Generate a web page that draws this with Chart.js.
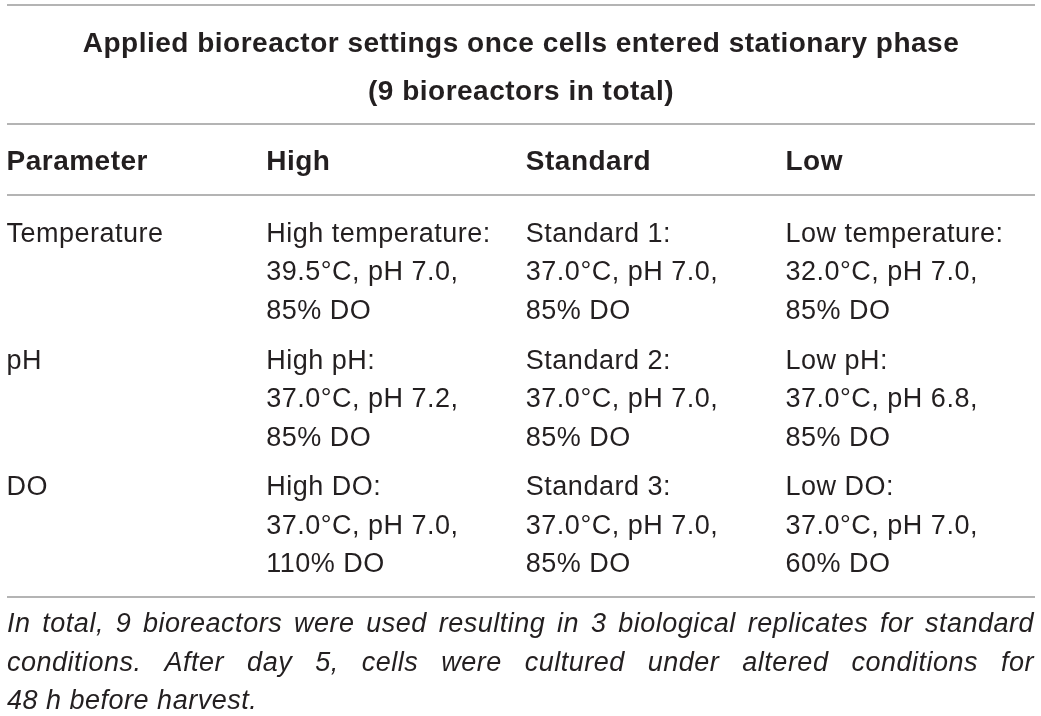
<!DOCTYPE html>
<html>
<head>
<meta charset="utf-8">
<script src="https://cdn.jsdelivr.net/npm/chart.js@4.4.1/dist/chart.umd.min.js"></script>
<style>
  html, body { margin: 0; padding: 0; background: #ffffff; }
  #wrap { width: 1041px; height: 716px; }
</style>
</head>
<body>
<div id="wrap"><canvas id="settingsTable" width="1041" height="716"></canvas></div>
<script>
// Table content
const titleLines = [
  'Applied bioreactor settings once cells entered stationary phase',
  '(9 bioreactors in total)',
];
const columns = ['Parameter', 'High', 'Standard', 'Low'];
const parameters = ['Temperature', 'pH', 'DO'];

const highNames = ['High temperature:', 'High pH:', 'High DO:'];
const highTemp = [39.5, 37.0, 37.0];
const highPH = [7.0, 7.2, 7.0];
const highDO = [85, 85, 110];

const standardNames = ['Standard 1:', 'Standard 2:', 'Standard 3:'];
const standardTemp = [37.0, 37.0, 37.0];
const standardPH = [7.0, 7.0, 7.0];
const standardDO = [85, 85, 85];

const lowNames = ['Low temperature:', 'Low pH:', 'Low DO:'];
const lowTemp = [32.0, 37.0, 37.0];
const lowPH = [7.0, 6.8, 7.0];
const lowDO = [85, 85, 60];

const footnoteLines = [
  'In total, 9 bioreactors were used resulting in 3 biological replicates for standard',
  'conditions. After day 5, cells were cultured under altered conditions for',
  '48 h before harvest.',
];

// Build the three text lines of one condition cell
const cellLines = (names, temps, phs, dos, r) => [
  names[r],
  `${temps[r].toFixed(1)}°C, pH ${phs[r].toFixed(1)},`,
  `${dos[r]}% DO`,
];

const settingColumns = [
  [highNames, highTemp, highPH, highDO],
  [standardNames, standardTemp, standardPH, standardDO],
  [lowNames, lowTemp, lowPH, lowDO],
];

const TEXT = '#231f20';
const RULE = '#9b9b9b';
const FAMILY = '"Liberation Sans", Arial, Helvetica, sans-serif';
const LINE = 38.5; // line spacing inside a cell

// Draw a line of words spread across the full width
const drawJustified = (ctx, text, x0, x1, baseY) => {
  const words = text.split(' ');
  const widths = words.map((w) => ctx.measureText(w).width);
  const total = widths.reduce((a, b) => a + b, 0);
  const gap = (x1 - x0 - total) / (words.length - 1);
  let x = x0;
  words.forEach((w, i) => {
    ctx.fillText(w, x, baseY);
    x += widths[i] + gap;
  });
};

const tablePlugin = {
  id: 'tableText',
  afterDraw(chart) {
    const { ctx, chartArea, scales } = chart;
    const xs = scales.x;
    const ys = scales.y;
    const ruleLeft = 7;
    const ruleRight = 1035;

    ctx.save();
    ctx.letterSpacing = '0.5px';
    ctx.textBaseline = 'alphabetic';
    ctx.fillStyle = TEXT;

    // horizontal rules
    ctx.strokeStyle = RULE;
    ctx.lineWidth = 1.5;
    [5, 124, 195, chartArea.bottom].forEach((yy) => {
      ctx.beginPath();
      ctx.moveTo(ruleLeft, yy);
      ctx.lineTo(ruleRight, yy);
      ctx.stroke();
    });

    // title
    ctx.font = `bold 28px ${FAMILY}`;
    ctx.textAlign = 'center';
    titleLines.forEach((t, i) => {
      ctx.fillText(t, (ruleLeft + ruleRight) / 2, 52 + i * 48);
    });

    // column headers
    ctx.textAlign = 'left';
    columns.forEach((c, i) => {
      ctx.fillText(c, xs.getPixelForValue(i), 170);
    });

    // body cells
    ctx.font = `27px ${FAMILY}`;
    parameters.forEach((p, r) => {
      const cy = ys.getPixelForValue(r);
      ctx.fillText(p, xs.getPixelForValue(0), cy - LINE);
      settingColumns.forEach((col, c) => {
        const lines = cellLines(col[0], col[1], col[2], col[3], r);
        lines.forEach((line, k) => {
          ctx.fillText(line, xs.getPixelForValue(c + 1), cy + (k - 1) * LINE);
        });
      });
    });

    // footnote
    ctx.font = `italic 27px ${FAMILY}`;
    footnoteLines.forEach((line, i) => {
      const baseY = 632 + i * LINE;
      if (i < footnoteLines.length - 1) {
        drawJustified(ctx, line, ruleLeft, ruleRight - 1, baseY);
      } else {
        ctx.fillText(line, ruleLeft, baseY);
      }
    });

    ctx.restore();
  },
};

const settingsChart = new Chart(document.getElementById('settingsTable'), {
  type: 'scatter',
  data: { datasets: [] },
  options: {
    responsive: false,
    animation: false,
    devicePixelRatio: 1,
    layout: {
      padding: { left: 6.5, right: 1041 - 785.5, top: 217, bottom: 716 - 597 },
    },
    scales: {
      x: { type: 'category', labels: columns, offset: false, display: false },
      y: { type: 'category', labels: parameters, offset: true, display: false },
    },
    plugins: {
      legend: { display: false },
      tooltip: { enabled: false },
      title: { display: false },
    },
  },
  plugins: [tablePlugin],
});
</script>
</body>
</html>
